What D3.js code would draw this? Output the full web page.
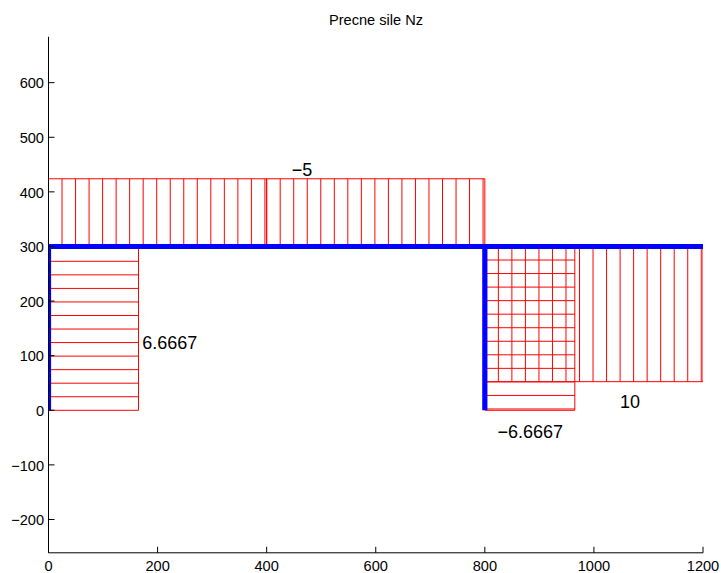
<!DOCTYPE html>
<html>
<head>
<meta charset="utf-8">
<script src="https://cdn.jsdelivr.net/npm/d3@7/dist/d3.min.js"></script>
<style>
  html, body { margin: 0; padding: 0; background: #fff; }
  svg { display: block; }
  text { font-family: "Liberation Sans", Arial, sans-serif; fill: #000; }
</style>
</head>
<body>
<script>
//-----------------Data----------------
const xTicks = [0, 200, 400, 600, 800, 1000, 1200];
const yTicks = [-200, -100, 0, 100, 200, 300, 400, 500, 600];

// frame of the structure (blue)
const beam = [[0, 300], [1200, 300]];
const leftColumn = [[0, 0], [0, 300]];
const rightColumn = [[800, 0], [800, 300]];

// outlines of the force diagrams (red)
const topLeftBox = [[0, 300], [0, 424], [400, 424], [400, 300]];
const topRightBox = [[400, 300], [400, 424], [800, 424], [800, 300]];
const leftBox = [[0, 300], [165, 300], [165, 0], [0, 0]];
const midBox = [[800, 300], [965, 300], [965, 0], [800, 0]];
const rightBox = [[800, 300], [1200, 300], [1200, 52.4], [800, 52.4]];

// hatch positions
const topLeftHatch = [24.8, 49.6, 74.4, 99.2, 124, 148.8, 173.6, 198.4, 223.2, 248, 272.8, 297.6, 322.4, 347.2, 372, 396.8];
const topRightHatch = [424.8, 449.6, 474.4, 499.2, 524, 548.8, 573.6, 598.4, 623.2, 648, 672.8, 697.6, 722.4, 747.2, 772, 796.8];
const leftHatch = [24.8, 49.6, 74.4, 99.2, 124, 148.8, 173.6, 198.4, 223.2, 248, 272.8, 297.6];
const midHatch = [2.4, 27.2, 52, 76.8, 101.6, 126.4, 151.2, 176, 200.8, 225.6, 250.4, 275.2];
const rightHatch = [824.8, 849.6, 874.4, 899.2, 924, 948.8, 973.6, 998.4, 1023.2, 1048, 1072.8, 1097.6, 1122.4, 1147.2, 1172, 1196.8];

const labels = [
  { text: "\u22125", x: 446, y: 429 },
  { text: "6.6667", x: 172, y: 111.7 },
  { text: "\u22126.6667", x: 823, y: -51.3 },
  { text: "10", x: 1048, y: 4.8 }
];

//-----------------Chart---------------
const width = 721;
const height = 573;

const x = d3.scaleLinear().domain([0, 1200]).range([48.5, 703]);
const y = d3.scaleLinear().domain([-261, 684]).range([552.8, 36.8]);

const svg = d3.select("body").append("svg").attr("width", width).attr("height", height);

svg.append("defs").append("clipPath").attr("id", "plot-clip")
  .append("rect")
  .attr("x", x(0)).attr("y", y(684))
  .attr("width", x(1200) - x(0)).attr("height", y(-261) - y(684));

const plot = svg.append("g").attr("clip-path", "url(#plot-clip)");
const line = d3.line().x((d) => x(d[0])).y((d) => y(d[1]));

// ------------------Red diagrams-----------------
const red = plot.append("g").attr("fill", "none").attr("stroke", "#f00").attr("stroke-width", 1);

[topLeftBox, topRightBox, leftBox, midBox, rightBox].forEach((box) => {
  red.append("path").attr("d", line(box));
});

function vHatch(values, y0, y1) {
  values.forEach((v) => red.append("path").attr("d", line([[v, y0], [v, y1]])));
}
function hHatch(values, x0, x1) {
  values.forEach((v) => red.append("path").attr("d", line([[x0, v], [x1, v]])));
}

vHatch(topLeftHatch, 300, 424);
vHatch(topRightHatch, 300, 424);
hHatch(leftHatch, 0, 165);
hHatch(midHatch, 800, 965);
vHatch(rightHatch, 52.4, 300);

// ------------------Blue frame-----------------
[beam, leftColumn, rightColumn].forEach((seg) => {
  plot.append("path")
    .attr("d", line(seg))
    .attr("fill", "none")
    .attr("stroke", "#00f")
    .attr("stroke-width", 5.2);
});

//-----------Axes--------------
const xAxis = svg.append("g")
  .attr("transform", `translate(0,${y(-261)})`)
  .call(d3.axisBottom(x).offset(0).tickValues(xTicks).tickSizeInner(-6).tickSizeOuter(0).tickPadding(7.6).tickFormat((d) => d3.format("d")(d)));
const yAxis = svg.append("g")
  .attr("transform", `translate(${x(0)},0)`)
  .call(d3.axisLeft(y).offset(0).tickValues(yTicks).tickSizeInner(-6).tickSizeOuter(0).tickPadding(4.5).tickFormat((d) => String(d).replace("-", "\u2212")));

yAxis.selectAll("text").attr("dy", "0.39em");

[xAxis, yAxis].forEach((axis) => {
  axis.attr("font-family", null).attr("font-size", null);
  axis.selectAll("text").style("font-size", "14.6px");
  axis.selectAll("path, line").attr("stroke", "#000").attr("stroke-width", 1);
});

//------------Labels--------------
svg.append("text")
  .attr("x", 376)
  .attr("y", 25)
  .attr("text-anchor", "middle")
  .style("font-size", "14.6px")
  .text("Precne sile Nz");

svg.selectAll(".value-label")
  .data(labels)
  .enter()
  .append("text")
  .attr("class", "value-label")
  .attr("x", (d) => x(d.x))
  .attr("y", (d) => y(d.y))
  .style("font-size", "18px")
  .text((d) => d.text);
</script>
</body>
</html>
